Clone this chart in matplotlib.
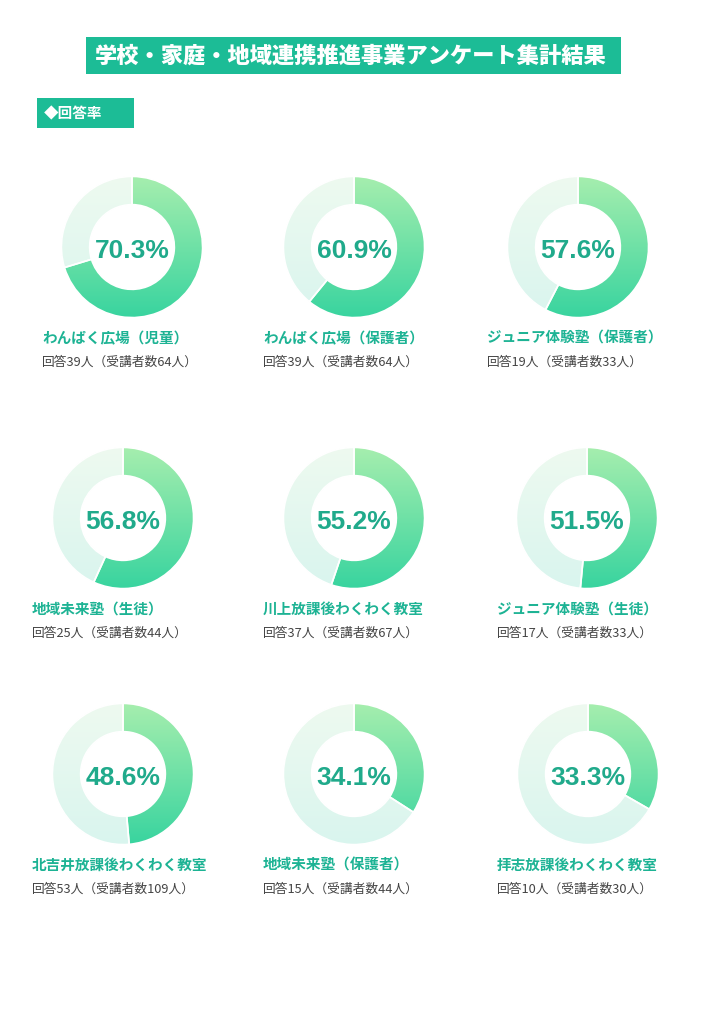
import numpy as np
import matplotlib
matplotlib.use('Agg')
import matplotlib.pyplot as plt
from matplotlib.colors import LinearSegmentedColormap
from matplotlib.patches import Rectangle

plt.rcParams['font.family'] = ['Noto Sans CJK JP', 'DejaVu Sans']

# data
names = ['わんぱく広場（児童）', 'わんぱく広場（保護者）', 'ジュニア体験塾（保護者）',
         '地域未来塾（生徒）', '川上放課後わくわく教室', 'ジュニア体験塾（生徒）',
         '北吉井放課後わくわく教室', '地域未来塾（保護者）', '拝志放課後わくわく教室']
rates = [70.3, 60.9, 57.6, 56.8, 55.2, 51.5, 48.6, 34.1, 33.3]
answered = [39, 39, 19, 25, 37, 17, 53, 15, 10]
enrolled = [64, 64, 33, 44, 67, 33, 109, 44, 30]

title = '学校・家庭・地域連携推進事業アンケート集計結果'
section = '◆回答率'

W, H = 711, 1023
TEAL = '#1cbc96'
PCT = '#20aa8b'

fill_cmap = LinearSegmentedColormap.from_list('fill', ['#a6eeae', '#38d49f'])
rest_cmap = LinearSegmentedColormap.from_list('rest', ['#eefaf0', '#d9f5ee'])

fig = plt.figure(figsize=(W / 100, H / 100), dpi=100)
bg = fig.add_axes([0, 0, 1, 1])
bg.set_xlim(0, W)
bg.set_ylim(H, 0)
bg.axis('off')

# header boxes
bg.add_patch(Rectangle((86, 37), 535, 37, color=TEAL, lw=0))
bg.text(351, 56, title, color='white', fontsize=16, fontweight='heavy',
        ha='center', va='center')
bg.add_patch(Rectangle((37, 98), 97, 30, color=TEAL, lw=0))
bg.text(44, 113.5, section, color='white', fontsize=10.5, fontweight='bold',
        ha='left', va='center')

col_x = [[132, 354, 578], [123, 354, 587], [123, 354, 588]]
row_y = [247, 518, 774]
label_x = [[42, 263, 487], [32, 263, 497], [32, 263, 497]]
R = 72

grad = np.linspace(0, 1, 256).reshape(-1, 1)

for i, (nm, p, a, e) in enumerate(zip(names, rates, answered, enrolled)):
    r, c = divmod(i, 3)
    cx, cy = col_x[r][c], row_y[r]
    ax = fig.add_axes([(cx - R) / W, 1 - (cy + R) / H, 2 * R / W, 2 * R / H])
    wedges, _ = ax.pie([p, 100 - p], startangle=90, counterclock=False, radius=1,
                       wedgeprops=dict(width=0.40, edgecolor='white', linewidth=1.2))
    for w, cm in zip(wedges, [fill_cmap, rest_cmap]):
        w.set_facecolor('none')
        im = ax.imshow(grad, cmap=cm, extent=[-1, 1, -1, 1], origin='upper',
                       aspect='auto', zorder=0)
        im.set_clip_path(w)
    ax.set_xlim(-1.02, 1.02)
    ax.set_ylim(-1.02, 1.02)
    ax.set_aspect('equal')
    ax.axis('off')
    ax.text(0, -0.06, f'{p:.1f}%', fontsize=19, fontweight='bold', color=PCT,
            ha='center', va='center', family=['Liberation Sans', 'DejaVu Sans'])

    lx = label_x[r][c]
    ty = cy + 91
    bg.text(lx, ty, nm, fontsize=10.5, fontweight='bold', color='#1db394',
            ha='left', va='center')
    bg.text(lx, ty + 24, f'回答{a}人（受講者数{e}人）', fontsize=9.2, color='#444444',
            ha='left', va='center')

fig.savefig('out.png', dpi=100)
